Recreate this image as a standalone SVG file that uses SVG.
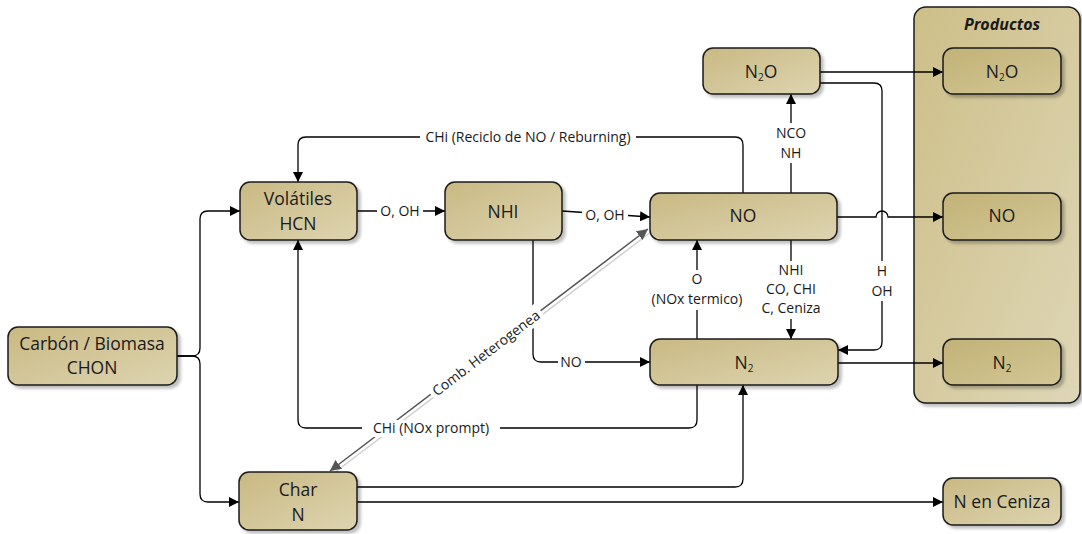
<svg xmlns="http://www.w3.org/2000/svg" width="1082" height="534" viewBox="0 0 1082 534">
<defs>
<linearGradient id="gNode" x1="0" y1="0" x2="1" y2="1">
<stop offset="0" stop-color="#c9b983"/>
<stop offset="1" stop-color="#ddd4b0"/>
</linearGradient>
<linearGradient id="gProd" x1="0" y1="0" x2="1" y2="1">
<stop offset="0" stop-color="#c2b277"/>
<stop offset="1" stop-color="#d3c796"/>
</linearGradient>
<linearGradient id="gCont" x1="0" y1="0" x2="1" y2="1">
<stop offset="0" stop-color="#cdbf88"/>
<stop offset="1" stop-color="#ded6b6"/>
</linearGradient>
<filter id="sh" x="-10%" y="-10%" width="130%" height="140%">
<feDropShadow dx="3" dy="3" stdDeviation="1.5" flood-color="#000" flood-opacity="0.25"/>
</filter>
<marker id="arr" viewBox="0 0 10 10" refX="10" refY="5" markerWidth="10" markerHeight="10" markerUnits="userSpaceOnUse" orient="auto">
<path d="M0,0 L10,5 L0,10 Z" fill="#000"/>
</marker>
<marker id="garr" viewBox="0 0 10 10" refX="10" refY="5" markerWidth="11" markerHeight="11" markerUnits="userSpaceOnUse" orient="auto-start-reverse">
<path d="M0,0 L10,5 L0,10 Z" fill="#555"/>
</marker>
<style>
.node{fill:url(#gNode);stroke:#1a1a1a;stroke-width:1.5;filter:url(#sh)}
.prod{fill:url(#gProd);stroke:#1a1a1a;stroke-width:1.5;filter:url(#sh)}
.cont{fill:url(#gCont);stroke:#1a1a1a;stroke-width:1.5;filter:url(#sh)}
.nt{font-family:"Open Sans","Noto Sans",sans-serif;font-size:17.5px;fill:#1a1a1a;text-anchor:middle}
.lt{font-family:"Open Sans","Noto Sans",sans-serif;font-size:14px;fill:#1a1a1a;text-anchor:middle}
.ttl{font-family:"Open Sans","Noto Sans",sans-serif;font-size:16px;font-weight:bold;font-style:italic;fill:#1a1a1a;text-anchor:middle}
.c{fill:none;stroke:#000;stroke-width:1.3}
.ca{fill:none;stroke:#000;stroke-width:1.3;marker-end:url(#arr)}
.bg{fill:#fff}
</style>
</defs>
<rect width="1082" height="534" fill="#fff"/>

<g id="productos">
<rect class="cont" x="914" y="7" width="166" height="396" rx="12"/>
<text class="ttl" x="1002" y="30">Productos</text>
</g>

<g id="connectors">
<path class="ca" d="M177,356 H192 Q200,356 200,348 V219 Q200,211 208,211 H240"/>
<path class="ca" d="M177,356 H192 Q200,356 200,364 V494 Q200,502 208,502 H239"/>
<path class="ca" d="M357,211 H445"/>
<path class="ca" d="M562,211 L650,217"/>
<path class="ca" d="M533,240 V354 Q533,362 541,362 H650"/>
<path class="ca" d="M743,193 V145 Q743,137 735,137 H306 Q298,137 298,145 V182"/>
<path class="ca" d="M697,385 V420 Q697,428 689,428 H306 Q298,428 298,420 V240"/>
<path class="ca" d="M697,339 V240"/>
<path class="ca" d="M791,240 V339"/>
<path class="ca" d="M791,193 V94"/>
<path class="ca" d="M820,72 H943"/>
<path class="ca" d="M820,83 H874 Q882,83 882,91 V342 Q882,350 874,350 H838"/>
<path class="ca" d="M837,217 H876 A6,6 0 0 1 888,217 H943"/>
<path class="ca" d="M838,363 H943"/>
<path class="ca" d="M357,487 H735 Q743,487 743,479 V385"/>
<path class="ca" d="M357,502 H943"/>
<line x1="334" y1="473" x2="651" y2="232" stroke="#d0d0d0" stroke-width="1.5"/>
<line x1="330" y1="471" x2="648" y2="229" stroke="#555" stroke-width="1.5" marker-start="url(#garr)" marker-end="url(#garr)"/>

<rect class="bg" x="377" y="203" width="46" height="17"/>
<text class="lt" x="400" y="216">O, OH</text>
<rect class="bg" x="582" y="207" width="46" height="17"/>
<text class="lt" x="605" y="220">O, OH</text>
<rect class="bg" x="558" y="354" width="27" height="17"/>
<text class="lt" x="571" y="367">NO</text>
<rect class="bg" x="420" y="128" width="216" height="17"/>
<text class="lt" x="528" y="142">CHi (Reciclo de NO / Reburning)</text>
<rect class="bg" x="362" y="420" width="138" height="17"/>
<text class="lt" x="431" y="433">CHi (NOx prompt)</text>
<rect class="bg" x="648" y="270" width="98" height="40"/>
<text class="lt" x="697" y="284">O</text>
<text class="lt" x="697" y="304">(NOx termico)</text>
<rect class="bg" x="754" y="261" width="74" height="58"/>
<text class="lt" x="791" y="275">NHI</text>
<text class="lt" x="791" y="294">CO, CHI</text>
<text class="lt" x="791" y="313">C, Ceniza</text>
<rect class="bg" x="772" y="123" width="38" height="40"/>
<text class="lt" x="791" y="138">NCO</text>
<text class="lt" x="791" y="158">NH</text>
<rect class="bg" x="869" y="261" width="26" height="40"/>
<text class="lt" x="882" y="276">H</text>
<text class="lt" x="882" y="296">OH</text>
<g transform="translate(486,353) rotate(-37.3)">
<rect class="bg" x="-69" y="-10" width="138" height="19"/>
<text class="lt" x="0" y="5" font-size="15">Comb. Heterogenea</text>
</g>
</g>

<g id="carbon">
<rect class="node" x="8" y="327" width="169" height="58" rx="10"/>
<text class="nt" x="92" y="350">Carbón / Biomasa</text>
<text class="nt" x="92" y="374">CHON</text>
</g>
<g id="volatiles">
<rect class="node" x="240" y="182" width="117" height="58" rx="10"/>
<text class="nt" x="298" y="205">Volátiles</text>
<text class="nt" x="298" y="230">HCN</text>
</g>
<g id="nhi">
<rect class="node" x="445" y="182" width="117" height="58" rx="10"/>
<text class="nt" x="503" y="218">NHI</text>
</g>
<g id="no">
<rect class="node" x="650" y="193" width="187" height="47" rx="10"/>
<text class="nt" x="743" y="222">NO</text>
</g>
<g id="n2o">
<rect class="node" x="703" y="48" width="117" height="46" rx="10"/>
<text class="nt" x="761" y="78">N<tspan font-size="10" dy="3">2</tspan><tspan dy="-3">O</tspan></text>
</g>
<g id="n2">
<rect class="node" x="650" y="339" width="188" height="46" rx="10"/>
<text class="nt" x="744" y="369">N<tspan font-size="10" dy="3">2</tspan></text>
</g>
<g id="char">
<rect class="node" x="239" y="472" width="118" height="58" rx="10"/>
<text class="nt" x="298" y="496">Char</text>
<text class="nt" x="298" y="521">N</text>
</g>
<g id="p-n2o">
<rect class="prod" x="943" y="48" width="118" height="46" rx="10"/>
<text class="nt" x="1002" y="78">N<tspan font-size="10" dy="3">2</tspan><tspan dy="-3">O</tspan></text>
</g>
<g id="p-no">
<rect class="prod" x="943" y="193" width="118" height="47" rx="10"/>
<text class="nt" x="1002" y="222">NO</text>
</g>
<g id="p-n2">
<rect class="prod" x="943" y="339" width="118" height="46" rx="10"/>
<text class="nt" x="1002" y="369">N<tspan font-size="10" dy="3">2</tspan></text>
</g>
<g id="ceniza">
<rect class="node" x="943" y="478" width="118" height="47" rx="10"/>
<text class="nt" x="1002" y="508">N en Ceniza</text>
</g>
</svg>
